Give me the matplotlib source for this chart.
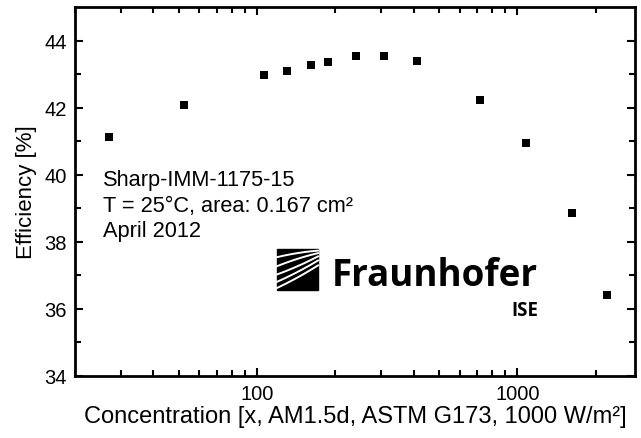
import matplotlib
matplotlib.use("Agg")
import matplotlib.pyplot as plt
import numpy as np
from matplotlib.patches import Rectangle
from matplotlib.ticker import LogLocator, FixedLocator, NullFormatter

plt.rcParams["font.family"] = ["Liberation Sans", "DejaVu Sans"]

concentration = [26.9, 52.5, 106, 130, 161, 187, 241, 308, 410, 721, 1076, 1622, 2208]
efficiency = [41.13, 42.09, 42.96, 43.10, 43.28, 43.36, 43.53, 43.53, 43.40, 42.24, 40.95, 38.87, 36.40]

info_lines = ["Sharp-IMM-1175-15", "T = 25°C, area: 0.167 cm²", "April 2012"]

W, H = 641, 439
fig = plt.figure(figsize=(W / 100, H / 100), dpi=100)
ax = fig.add_axes([75 / W, 1 - 377 / H, 560 / W, 369 / H])

ax.plot(concentration, efficiency, "s", color="black", markersize=6, markeredgewidth=0)

ax.set_xscale("log")
ax.set_xlim(20, 2830)
ax.set_ylim(34, 45)
ax.xaxis.set_major_locator(FixedLocator([100, 1000]))
ax.xaxis.set_minor_locator(LogLocator(base=10, subs=np.arange(2, 10)))
ax.xaxis.set_minor_formatter(NullFormatter())
ax.set_xticklabels(["100", "1000"])
ax.set_yticks([34, 36, 38, 40, 42, 44])
ax.set_yticks(np.arange(35, 45, 2), minor=True)

ax.tick_params(which="both", direction="in", top=True, right=True, width=1.5, labelsize=14.5)
ax.tick_params(which="major", length=6, pad=6)
ax.tick_params(which="minor", length=4)
for s in ax.spines.values():
    s.set_linewidth(2)

ax.set_xlabel("Concentration [x, AM1.5d, ASTM G173, 1000 W/m²]", fontsize=17, labelpad=1)
ax.set_ylabel("Efficiency [%]", fontsize=16, labelpad=5)

for i, line in enumerate(info_lines):
    fig.text(103 / W, 1 - (181 + 25.5 * i) / H, line, fontsize=15.7, va="center", ha="left")

# Fraunhofer ISE logo
x0, y0, sz = 277, 250, 41
fig.patches.append(Rectangle((x0 / W, 1 - (y0 + sz) / H), sz / W, sz / H,
                             transform=fig.transFigure, color="black"))
t = np.linspace(0, 1, 40)
for start, end in [(0.2, 0.96), (0.42, 0.9), (0.62, 0.82), (0.8, 0.72), (0.95, 0.6)]:
    xs = x0 + t * sz
    ys = y0 + sz * ((1 - t) * start + t * (1 - end) + 0.08 * t * (1 - t) * (1 if start > 0.5 else -1))
    fig.add_artist(plt.Line2D(xs / W, 1 - ys / H, color="white", lw=1.4, transform=fig.transFigure))
fig.text(332 / W, 1 - 276 / H, "Fraunhofer", fontsize=26.5, fontweight="bold",
         family=["Open Sans", "DejaVu Sans"], va="center", ha="left")
fig.text(538 / W, 1 - 311 / H, "ISE", fontsize=13.5, fontweight="bold",
         family=["Open Sans", "DejaVu Sans"], va="center", ha="right")

fig.savefig("out.png", dpi=100)
